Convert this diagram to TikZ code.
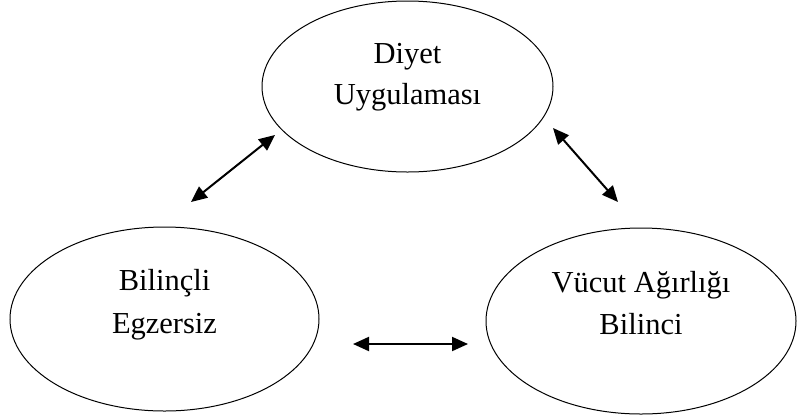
\documentclass[tikz,border=0pt]{standalone}
\usepackage{fontspec}
\setmainfont{Liberation Serif}
\usetikzlibrary{shapes.geometric,arrows.meta}
\begin{document}
\begin{tikzpicture}[x=1pt,y=-1pt,
  oval/.style={draw=black,line width=1pt,ellipse,inner sep=0pt},
  lbl/.style={anchor=base,inner sep=0pt,font=\fontsize{30.5}{36}\selectfont},
  link/.style={line width=2pt,{Triangle[length=16pt,width=14pt]}-{Triangle[length=16pt,width=14pt]}}]
\useasboundingbox[fill=white] (0,0) rectangle (797,416);
% ellipses
\node[oval,minimum width=291pt,minimum height=171pt] (top) at (407.5,86.5) {};
\node[oval,minimum width=309pt,minimum height=184pt] (left) at (164.5,319) {};
\node[oval,minimum width=310pt,minimum height=186pt] (right) at (641,321) {};
% labels
\node[lbl] (t1) at (407.5,63) {Diyet};
\node[lbl] (t2) at (407.5,104) {Uygulaması};
\node[lbl] (l1) at (164.5,290) {Bilinçli};
\node[lbl] (l2) at (164.5,333) {Egzersiz};
\node[lbl] (r1) at (641,292) {Vücut Ağırlığı};
\node[lbl] (r2) at (641,334) {Bilinci};
% connector ends
\coordinate (tlA) at (191,202);
\coordinate (tlB) at (275,135);
\coordinate (trA) at (553,128);
\coordinate (trB) at (618,202);
\coordinate (bA) at (353,344);
\coordinate (bB) at (468,344);
\draw[link] (tlA) -- (tlB);
\draw[link] (trA) -- (trB);
\draw[link] (bA) -- (bB);
\end{tikzpicture}
\end{document}
